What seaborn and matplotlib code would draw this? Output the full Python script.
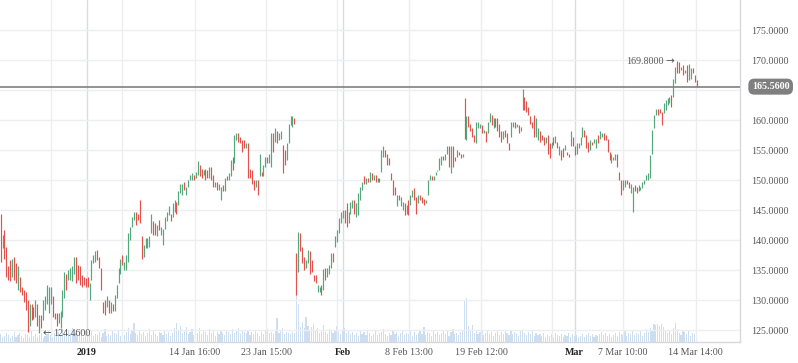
import numpy as np
import pandas as pd
import matplotlib
matplotlib.use("Agg")
import matplotlib.pyplot as plt
import matplotlib.transforms as mtransforms
import seaborn as sns

# hourly candles (open / close, one row = 10 candles)
opens = [
    144.4, 138.6, 141.7, 138.9, 135.6, 136.7, 133.9, 137.2, 136.1, 131.7,
    133.9, 132.2, 131.7, 131.4, 130.0, 125.6, 129.4, 128.9, 127.2, 129.4,
    124.46, 127.5, 126.7, 128.3, 129.4, 127.8, 129.4, 130.6, 127.8, 127.8,
    126.1, 125.3, 127.2, 130.3, 134.4, 133.3, 133.3, 133.1, 134.4, 137.2,
    135.8, 135.6, 134.2, 133.9, 133.6, 133.9, 130.0, 133.3, 136.1, 136.4,
    138.3, 137.2, 135.3, 129.7, 130.0, 128.9, 130.0, 127.8, 129.4, 128.1,
    130.3, 132.8, 134.4, 137.5, 135.0, 135.0, 136.4, 140.0, 142.2, 143.3,
    144.7, 144.4, 146.7, 140.6, 137.2, 138.6, 138.6, 138.9, 141.1, 143.1,
    142.8, 140.6, 143.3, 140.8, 139.2, 141.9, 143.1, 144.2, 144.4, 143.9,
    144.7, 146.4, 145.8, 147.8, 147.5, 149.7, 147.5, 148.9, 150.0, 150.0,
    150.8, 150.3, 150.8, 152.5, 151.9, 150.8, 151.9, 151.7, 150.3, 152.2,
    150.8, 148.9, 149.7, 148.3, 146.7, 149.2, 148.1, 150.6, 150.0, 150.6,
    153.9, 152.8, 156.7, 157.8, 157.2, 156.7, 156.7, 155.3, 156.1, 151.9,
    151.7, 150.0, 148.9, 150.0, 150.6, 151.4, 150.6, 152.2, 153.9, 152.8,
    152.2, 157.8, 156.4, 158.1, 156.7, 156.9, 155.8, 155.0, 153.3, 156.1,
    159.2, 158.9, 160.3, 137.9, 134.7, 141.1, 138.9, 137.2, 135.3, 136.1,
    138.1, 136.7, 134.2, 134.2, 131.4, 131.4, 132.5, 131.7, 135.3, 133.9,
    134.4, 135.3, 137.8, 138.9, 139.7, 141.1, 142.8, 143.6, 145.0, 146.1,
    142.8, 144.4, 145.3, 146.7, 143.9, 144.2, 146.7, 148.3, 150.6, 149.4,
    150.3, 149.7, 151.1, 150.0, 150.8, 149.7, 150.3, 151.4, 153.9, 155.0,
    154.4, 153.6, 151.1, 150.0, 148.9, 145.6, 147.5, 145.6, 145.0, 146.1,
    144.4, 146.7, 145.8, 147.2, 148.6, 147.2, 146.1, 147.5, 147.2, 146.9,
    146.1, 147.5, 150.0, 150.6, 150.0, 150.8, 151.5, 151.7, 152.5, 154.0,
    153.3, 154.4, 155.6, 151.1, 155.6, 153.9, 153.9, 154.7, 154.4, 153.9,
    163.6, 156.7, 160.6, 159.4, 158.6, 157.5, 156.1, 158.6, 158.6, 159.2,
    157.8, 158.1, 157.8, 159.7, 160.8, 158.6, 160.3, 160.3, 159.4, 158.1,
    156.9, 158.3, 157.8, 156.1, 157.2, 158.9, 159.7, 158.9, 159.2, 158.1,
    161.7, 163.9, 163.1, 162.2, 160.6, 159.7, 160.8, 157.2, 156.7, 158.1,
    157.5, 157.2, 156.1, 157.5, 156.1, 155.3, 157.2, 156.1, 156.4, 154.2,
    155.0, 155.3, 155.0, 154.7, 154.4, 155.6, 157.2, 155.6, 154.4, 155.3,
    155.8, 157.2, 158.4, 157.5, 156.4, 155.0, 156.4, 156.1, 155.3, 157.5,
    156.9, 157.2, 157.8, 157.5, 156.9, 154.7, 152.8, 153.3, 153.3, 154.4,
    151.4, 150.0, 148.3, 148.9, 150.0, 149.7, 147.8, 144.7, 149.2, 148.9,
    148.1, 148.3, 148.6, 149.4, 150.0, 150.0, 150.3, 154.4, 158.6, 160.8,
    161.9, 161.9, 161.4, 161.1, 161.7, 162.5, 162.8, 164.2, 163.9, 166.1,
    169.8, 169.7, 168.3, 169.2, 167.8, 169.2, 166.7, 166.9, 168.6, 167.5, 166.7,
]
closes = [
    136.4, 140.8, 136.9, 133.9, 133.3, 133.1, 136.9, 133.3, 132.8, 135.6,
    131.4, 130.8, 129.7, 128.3, 124.6, 129.4, 126.7, 126.9, 130.0, 125.6,
    127.5, 125.3, 130.0, 130.6, 132.5, 132.2, 132.2, 127.2, 126.9, 125.6,
    127.8, 128.1, 131.7, 134.7, 131.7, 135.0, 135.3, 135.6, 137.2, 132.8,
    133.3, 132.5, 132.2, 132.5, 132.2, 132.2, 132.8, 136.7, 137.5, 138.1,
    136.7, 135.3, 131.7, 127.8, 127.5, 130.6, 127.8, 129.7, 128.1, 130.8,
    132.5, 135.3, 136.9, 135.8, 136.4, 137.5, 141.1, 142.2, 143.9, 144.7,
    142.5, 143.3, 142.8, 136.9, 139.2, 140.3, 140.3, 140.6, 144.4, 140.8,
    140.8, 142.5, 141.7, 142.2, 141.9, 143.9, 144.7, 145.6, 143.1, 146.1,
    146.7, 144.4, 148.1, 149.4, 149.4, 148.3, 148.9, 150.0, 150.8, 151.1,
    150.0, 151.4, 153.2, 150.6, 150.3, 151.7, 150.0, 150.3, 152.2, 150.0,
    148.9, 149.7, 148.3, 149.4, 148.9, 148.1, 150.3, 150.0, 151.1, 153.3,
    151.7, 157.5, 157.8, 156.4, 156.1, 154.7, 155.3, 156.1, 150.3, 150.3,
    149.4, 148.3, 150.0, 147.5, 154.4, 150.6, 152.5, 153.9, 152.8, 154.4,
    157.8, 154.7, 158.6, 156.1, 157.8, 158.1, 151.1, 152.5, 156.1, 159.4,
    160.7, 160.7, 159.3, 130.8, 141.4, 138.1, 136.1, 135.0, 136.7, 138.3,
    134.4, 134.7, 133.1, 132.8, 132.5, 132.2, 130.8, 135.1, 133.3, 135.4,
    135.8, 137.8, 136.4, 140.6, 141.7, 143.6, 144.7, 145.0, 142.8, 142.2,
    144.7, 146.4, 146.7, 144.4, 146.1, 147.8, 148.9, 149.7, 149.4, 150.3,
    149.7, 151.4, 150.0, 150.8, 149.7, 150.3, 149.7, 155.0, 155.6, 153.9,
    152.5, 152.5, 150.0, 147.5, 147.5, 147.5, 146.7, 147.2, 146.4, 144.2,
    145.8, 144.2, 147.5, 148.3, 146.7, 144.4, 147.5, 146.7, 146.1, 145.8,
    146.7, 150.0, 150.8, 150.0, 150.6, 151.4, 151.7, 153.6, 154.0, 153.3,
    154.4, 155.6, 152.2, 155.6, 152.2, 153.1, 155.0, 154.2, 153.6, 154.4,
    156.9, 160.6, 158.9, 158.1, 157.2, 156.4, 159.7, 159.7, 159.4, 157.8,
    158.3, 156.4, 159.7, 161.1, 159.2, 160.3, 158.9, 158.1, 157.2, 156.4,
    158.1, 157.2, 156.1, 155.0, 159.7, 159.7, 158.6, 159.4, 157.8, 158.9,
    165.1, 161.7, 161.4, 160.8, 159.4, 158.6, 157.2, 160.3, 158.6, 156.4,
    156.7, 155.8, 157.2, 154.4, 153.6, 156.4, 155.8, 157.3, 155.3, 155.6,
    153.3, 153.9, 155.8, 154.2, 153.9, 158.1, 155.6, 154.2, 156.1, 156.1,
    157.2, 158.9, 157.2, 155.3, 154.7, 156.7, 155.8, 156.9, 156.8, 156.1,
    158.1, 157.9, 156.7, 156.7, 154.7, 153.3, 154.4, 153.9, 154.4, 152.2,
    150.0, 147.5, 150.0, 150.0, 149.4, 148.6, 149.4, 148.9, 148.1, 147.8,
    149.2, 148.9, 149.7, 150.0, 150.8, 151.1, 154.2, 158.3, 160.8, 161.9,
    160.8, 161.1, 159.2, 162.8, 163.3, 163.6, 163.9, 162.2, 166.9, 168.9,
    167.8, 167.8, 168.9, 167.5, 168.3, 166.4, 169.4, 168.6, 167.8, 166.4, 165.56,
]
volume = [
    8, 5, 6, 9, 7, 4, 6, 10, 5, 7,
    9, 6, 4, 8, 7, 5, 11, 6, 8, 5,
    7, 9, 4, 6, 8, 12, 7, 5, 9, 6,
    10, 7, 13, 9, 6, 11, 8, 14, 7, 9,
    6, 10, 8, 5, 12, 7, 9, 11, 6, 8,
    7, 10, 5, 9, 13, 6, 8, 7, 11, 9,
    8, 12, 6, 9, 7, 10, 14, 8, 11, 19,
    9, 7, 12, 8, 10, 6, 9, 13, 7, 11,
    8, 6, 10, 9, 7, 12, 8, 10, 6, 9,
    14, 19, 11, 16, 9, 12, 15, 8, 10, 13,
    7, 11, 9, 14, 8, 12, 10, 7, 13, 9,
    11, 6, 10, 8, 12, 9, 7, 11, 10, 8,
    13, 9, 11, 14, 8, 12, 10, 9, 11, 7,
    10, 8, 12, 9, 6, 10, 8, 11, 13, 9,
    10, 8, 12, 24, 9, 11, 14, 8, 10, 9,
    8, 10, 9, 47, 38, 15, 20, 14, 25, 16,
    12, 15, 18, 11, 14, 9, 12, 17, 10, 8,
    13, 11, 9, 12, 16, 10, 8, 11, 14, 9,
    12, 8, 10, 7, 9, 6, 11, 8, 10, 7,
    12, 9, 6, 8, 11, 7, 9, 10, 13, 8,
    6, 9, 7, 11, 8, 10, 6, 9, 12, 7,
    9, 8, 11, 6, 10, 7, 9, 12, 8, 15,
    7, 10, 9, 6, 11, 8, 10, 7, 9, 12,
    8, 11, 6, 10, 13, 8, 9, 7, 10, 12,
    42, 44, 16, 12, 17, 9, 11, 8, 10, 12,
    7, 9, 11, 8, 10, 6, 9, 12, 7, 10,
    8, 11, 9, 7, 12, 8, 10, 9, 6, 11,
    12, 9, 7, 10, 8, 11, 6, 9, 7, 8,
    6, 9, 5, 7, 6, 8, 5, 9, 7, 6,
    8, 5, 7, 6, 9, 5, 8, 6, 7, 5,
    6, 8, 5, 7, 9, 6, 8, 5, 7, 6,
    8, 10, 7, 9, 6, 8, 5, 7, 9, 6,
    10, 8, 7, 11, 6, 9, 8, 12, 7, 9,
    8, 11, 6, 9, 13, 10, 14, 12, 18, 17,
    18, 16, 18, 15, 12, 9, 11, 8, 14, 19,
    13, 9, 7, 12, 10, 8, 11, 6, 9, 8, 4,
]
assert len(opens) == len(closes) == len(volume)

# time axis ticks, in candle units
tick_pos = [26, 44.5, 63, 100.5, 137.5, 174, 177, 211.5, 248.5, 285.5, 297, 322, 359.5]
tick_text = ["", "2019", "", "14 Jan 16:00", "23 Jan 15:00", "", "Feb",
             "8 Feb 13:00", "19 Feb 12:00", "", "Mar", "7 Mar 10:00", "14 Mar 14:00"]
bold_labels = ["2019", "Feb", "Mar"]
price_ticks = [125, 130, 135, 140, 145, 150, 155, 160, 165, 170, 175]
last_price = 165.56

UP = "#52a77b"
DOWN = "#e2514c"
VOL = "#cddef0"
GRID = "#eceef1"
TXT = "#555555"

df = pd.DataFrame({"open": opens, "close": closes, "volume": volume})
df["idx"] = np.arange(len(df))
df["lo"] = df[["open", "close"]].min(axis=1)
df["hi"] = df[["open", "close"]].max(axis=1)
df["up"] = df["close"] >= df["open"]

sns.set_theme(style="white")
plt.rcParams["font.family"] = ["Liberation Serif", "DejaVu Sans"]

fig = plt.figure(figsize=(7.98, 3.63), dpi=100)
ax = fig.add_axes([0, 21 / 363, 740 / 798, 342 / 363])
axv = ax.twinx()

# volume bars underneath
sns.barplot(data=df, x="idx", y="volume", ax=axv, native_scale=True, color=VOL,
            width=0.6, errorbar=None, saturation=1, linewidth=0)
axv.set_ylim(0, 342)
axv.set_axis_off()
ax.set_zorder(axv.get_zorder() + 1)
ax.patch.set_visible(False)

# candles
ax.vlines(df["idx"], df["lo"], df["hi"],
          colors=np.where(df["up"], UP, DOWN), linewidth=0.85, zorder=3)

ax.set_xlim(-0.3, 382.5)
ax.set_ylim(123, 180)

ax.axhline(last_price, color="#808080", lw=1.2, zorder=4)

# grid + axes (165 label is hidden behind the last price tag)
ax.set_yticks(price_ticks)
ax.set_yticklabels(["" if abs(v - last_price) < 2 else f"{v:.4f}" for v in price_ticks])
ax.yaxis.tick_right()
ax.set_xticks(tick_pos)
ax.set_xticklabels(tick_text)
ax.grid(True, color=GRID, lw=1, zorder=0)
for gl, lab in zip(ax.get_xgridlines(), tick_text):
    if lab in bold_labels:
        gl.set_color("#d9dde2")
ax.tick_params(axis="y", length=0, pad=8, labelsize=7.2, labelcolor=TXT)
ax.tick_params(axis="x", length=0, pad=4, labelsize=7.2, labelcolor=TXT)
for t in ax.get_xticklabels():
    if t.get_text() in bold_labels:
        t.set_fontweight("bold")
        t.set_color("#222222")
for side in ["top", "left"]:
    ax.spines[side].set_visible(False)
for side in ["right", "bottom"]:
    ax.spines[side].set_color("#d5d8dc")
    ax.spines[side].set_linewidth(1)

# last price tag
trans = mtransforms.blended_transform_factory(ax.transAxes, ax.transData)
ax.text(1.016, last_price, f"{last_price:.4f}", transform=trans, ha="left", va="center",
        color="white", fontweight="bold", fontsize=7.2, clip_on=False, zorder=6,
        bbox=dict(boxstyle="round,pad=0.35,rounding_size=0.6", fc="#7f7f7f", ec="none"))

# min / max markers
lo_i = df["lo"].idxmin()
hi_i = df["hi"].idxmax()
lo_v = df.loc[lo_i, "lo"]
hi_v = df.loc[hi_i, "hi"]
ax.annotate("\u2190", (lo_i, lo_v), xytext=(2, 0), textcoords="offset points",
            ha="left", va="center", fontsize=7.5, color=TXT, family="DejaVu Sans", zorder=5)
ax.annotate(f"{lo_v:.4f}", (lo_i, lo_v), xytext=(10, 0), textcoords="offset points",
            ha="left", va="center", fontsize=7.2, color=TXT, zorder=5)
ax.annotate("\u2192", (hi_i, hi_v), xytext=(-2, 0), textcoords="offset points",
            ha="right", va="center", fontsize=7.5, color=TXT, family="DejaVu Sans", zorder=5)
ax.annotate(f"{hi_v:.4f}", (hi_i, hi_v), xytext=(-10, 0), textcoords="offset points",
            ha="right", va="center", fontsize=7.2, color=TXT, zorder=5)

fig.savefig("out.png", dpi=100)
